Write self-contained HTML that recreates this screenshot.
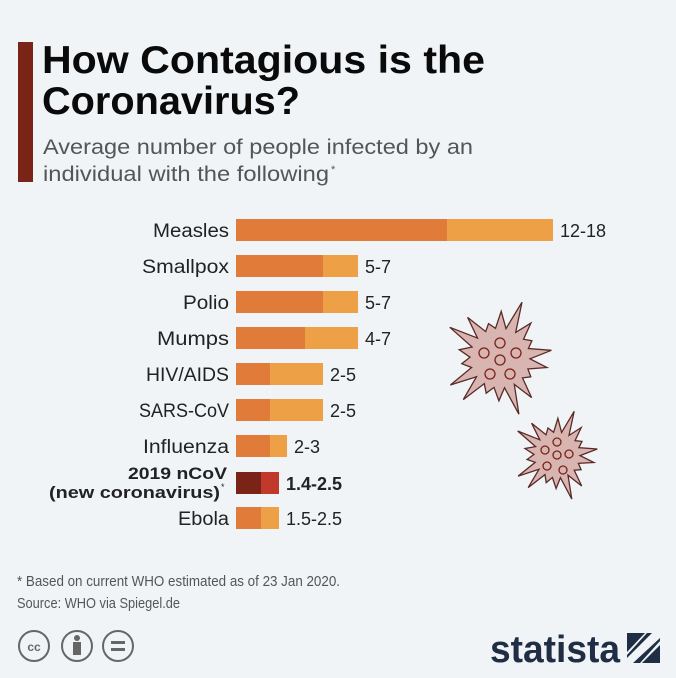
<!DOCTYPE html>
<html><head><meta charset="utf-8"><style>
body{margin:0;background:#f1f4f7;}
svg{display:block;font-family:"Liberation Sans",sans-serif;}
</style></head><body>
<svg id="s" width="676" height="678" viewBox="0 0 676 678" xmlns="http://www.w3.org/2000/svg">
<rect width="676" height="678" fill="#f1f4f7"/>
<rect x="18" y="42" width="15" height="140" fill="#7a2317"/>
<text x="42" y="73" font-size="39" font-weight="bold" fill="#0a0a0a" textLength="443" lengthAdjust="spacingAndGlyphs">How Contagious is the</text>
<text x="42" y="114" font-size="39" font-weight="bold" fill="#0a0a0a" textLength="258" lengthAdjust="spacingAndGlyphs">Coronavirus?</text>
<text x="43" y="154" font-size="21" fill="#555" textLength="430" lengthAdjust="spacingAndGlyphs">Average number of people infected by an</text>
<text x="43" y="181" font-size="21" fill="#555" textLength="286" lengthAdjust="spacingAndGlyphs">individual with the following</text>
<text x="331" y="173" font-size="11" fill="#555">*</text>
<g id="bars"></g>
<g id="virus"></g>
<text x="17" y="586" font-size="15" fill="#555" textLength="323" lengthAdjust="spacingAndGlyphs">* Based on current WHO estimated as of 23 Jan 2020.</text>
<text x="17" y="608" font-size="15" fill="#555" textLength="163" lengthAdjust="spacingAndGlyphs">Source: WHO via Spiegel.de</text>
<g fill="none" stroke="#666" stroke-width="2">
<circle cx="34" cy="646" r="15"/><circle cx="77" cy="646" r="15"/><circle cx="118" cy="646" r="15"/>
</g>
<text x="34" y="651" font-size="12" font-weight="bold" fill="#666" text-anchor="middle">cc</text>
<circle cx="77" cy="638" r="3" fill="#666"/><rect x="73" y="642" width="8" height="13" fill="#666"/>
<rect x="111" y="641" width="14" height="3" fill="#666"/><rect x="111" y="648" width="14" height="3" fill="#666"/>
<text x="490" y="662" font-size="38" font-weight="bold" fill="#1f2e44" textLength="130" lengthAdjust="spacingAndGlyphs">statista</text>
<polygon points="627,633 660,633 660,641 640,663 627,663 627,655 647,633" fill="#1f2e44"/>
<polygon points="627,633 645,633 627,652" fill="#1f2e44"/>
<polygon points="660,645 660,663 642,663" fill="#1f2e44"/>
<polygon points="638,633 660,633 660,638 633,663 627,663 627,658 652,633" fill="#f1f4f7"/>
</svg>
<script>
var rows=[["Measles",447,553,"12-18",76],["Smallpox",323,358,"5-7",87],["Polio",323,358,"5-7",46],["Mumps",305,358,"4-7",72],["HIV/AIDS",270,323,"2-5",83],["SARS-CoV",270,323,"2-5",90],["Influenza",270,287,"2-3",86],["",261,279,"1.4-2.5",0],["Ebola",261,279,"1.5-2.5",51]];
var ys=[230,266,302,338,374,410,446,483,518],h="";
rows.forEach(function(r,i){var y=ys[i];var nc=i==7;
h+='<rect x="236" y="'+(y-11)+'" width="'+(r[2]-236)+'" height="22" fill="'+(nc?"#c0392b":"#eda046")+'"/>';
h+='<rect x="236" y="'+(y-11)+'" width="'+(r[1]-236)+'" height="22" fill="'+(nc?"#7a2317":"#e07b3a")+'"/>';
h+='<text x="'+(r[2]+7)+'" y="'+(y+7)+'" font-size="18" fill="#222"'+(nc?' font-weight="bold"':'')+'>'+r[3]+'</text>';
if(r[0])h+='<text x="'+(229-r[4])+'" y="'+(y+7)+'" font-size="19" fill="#222" textLength="'+r[4]+'" lengthAdjust="spacingAndGlyphs">'+r[0]+'</text>';});
h+='<text x="128" y="479" font-size="17" font-weight="bold" fill="#222" textLength="99" lengthAdjust="spacingAndGlyphs">2019 nCoV</text>';
h+='<text x="49" y="498" font-size="17" font-weight="bold" fill="#222" textLength="171" lengthAdjust="spacingAndGlyphs">(new coronavirus)</text><text x="221" y="490" font-size="9" fill="#222">*</text>';
document.getElementById("bars").innerHTML=h;
function virus(cx,cy,R,r,n,dots,dr){var p=[];for(var k=0;k<2*n;k++){var a=k*Math.PI/n+0.2;var rad=k%2==0?R*(0.8+0.2*Math.sin(k*2.3)):r;p.push((cx+rad*Math.cos(a)).toFixed(1)+","+(cy+rad*Math.sin(a)).toFixed(1));}
var s='<polygon points="'+p.join(" ")+'" fill="#d9b5b1" stroke="#5a2a26" stroke-width="1.3"/>';
dots.forEach(function(d){s+='<circle cx="'+(cx+d[0])+'" cy="'+(cy+d[1])+'" r="'+dr+'" fill="none" stroke="#7a2317" stroke-width="1.3"/>';});return s;}
document.getElementById("virus").innerHTML=virus(500,358,60,30,18,[[0,-15],[-16,-5],[16,-5],[0,2],[-10,16],[10,16]],5)+virus(557,455,47,23,18,[[0,-13],[-12,-5],[12,-1],[0,0],[-10,11],[6,15]],4);
</script>
</body></html>
